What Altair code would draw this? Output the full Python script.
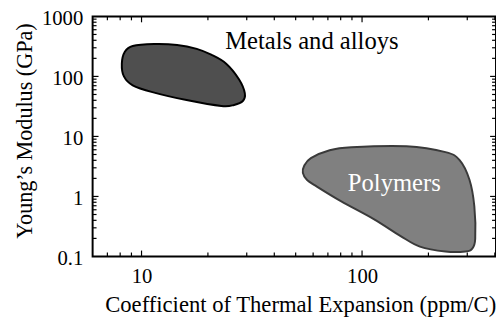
import altair as alt
import pandas as pd

# Metals and alloys region (outline points, ppm/C vs GPa)
metal_x = [8.14, 8.40, 9.12, 11.4, 14.5, 17.8, 20.7, 24.2, 27.7, 29.4, 28.8, 26.3, 23.0, 16.0, 11.2, 9.12, 8.32]
metal_y = [163, 257, 322, 347, 335, 288, 230, 163, 89, 52.6, 38.9, 33.5, 32.2, 40.4, 54.7, 71, 100]

# Polymers region (outline points)
poly_x = [54.6, 58.6, 71.3, 89.3, 159, 239, 277, 307, 323, 326, 316, 294, 239, 183, 149, 113, 80.5, 62.4, 56.2, 53.9]
poly_y = [3.22, 4.35, 5.89, 6.61, 6.85, 5.47, 4.04, 1.90, 0.686, 0.197, 0.135, 0.121, 0.121, 0.146, 0.221, 0.420, 0.828, 1.46, 1.90, 2.47]

# Region labels
label_text = ["Metals and alloys", "Polymers"]
label_x = [59.2, 140]
label_y = [281, 1.21]

# Axis ticks
x_labels = [10, 100]
y_labels = [0.1, 1, 10, 100, 1000]
x_minor = [7, 8, 9, 20, 30, 40, 50, 60, 70, 80, 90, 200, 300, 400]
x_major = [10, 100]
y_minor = [0.2, 0.3, 0.4, 0.5, 0.6, 0.7, 0.8, 0.9, 2, 3, 4, 5, 6, 7, 8, 9,
           20, 30, 40, 50, 60, 70, 80, 90, 200, 300, 400, 500, 600, 700, 800, 900]
y_major = [1, 10, 100]

W, H = 410, 244
FONT = "Liberation Serif"

xs = alt.Scale(type="log", domain=[6, 405], nice=False)
ys = alt.Scale(type="log", domain=[0.1, 1000], nice=False)

metals = pd.DataFrame({"x": metal_x, "y": metal_y, "i": range(len(metal_x))})
polys = pd.DataFrame({"x": poly_x, "y": poly_y, "i": range(len(poly_x))})
labels = pd.DataFrame({"t": label_text, "x": label_x, "y": label_y})

xaxis = alt.Axis(values=x_labels, format="~g", ticks=False, domain=False, grid=False,
                 labelFont=FONT, labelFontSize=21, labelColor="black", labelPadding=9,
                 title="Coefficient of Thermal Expansion (ppm/C)", titleFont=FONT,
                 titleFontSize=23, titleFontWeight="normal", titleColor="black",
                 titleX=211, titleY=56, titleBaseline="alphabetic")
yaxis = alt.Axis(values=y_labels, format="~g", ticks=False, domain=False, grid=False,
                 labelFont=FONT, labelFontSize=21, labelColor="black", labelPadding=10,
                 labelOffset=2.5,
                 title="Young\u2019s Modulus (GPa)", titleFont=FONT,
                 titleFontSize=22.5, titleFontWeight="normal", titleColor="black",
                 titleX=-62, titleY=116, titleBaseline="alphabetic")

metal_layer = alt.Chart(metals).mark_line(
    interpolate="cardinal-closed", filled=True, fill="#4f4f4f", stroke="black", strokeWidth=2
).encode(
    x=alt.X("x:Q", scale=xs, axis=xaxis),
    y=alt.Y("y:Q", scale=ys, axis=yaxis),
    order="i:O",
)

poly_layer = alt.Chart(polys).mark_line(
    interpolate="cardinal-closed", filled=True, fill="#808080", stroke="#3a3a3a", strokeWidth=2
).encode(
    x=alt.X("x:Q", scale=xs),
    y=alt.Y("y:Q", scale=ys),
    order="i:O",
)

text_layer = alt.Chart(labels).mark_text(
    font=FONT, fontSize=25, baseline="alphabetic", align="center"
).encode(
    x=alt.X("x:Q", scale=xs),
    y=alt.Y("y:Q", scale=ys),
    text="t:N",
    color=alt.Color("t:N", scale=alt.Scale(domain=label_text, range=["black", "white"]), legend=None),
)


def xticks(vals, y0, y1):
    df = pd.DataFrame({"v": vals})
    return alt.Chart(df).mark_rule(color="black", strokeWidth=1.2).encode(
        x=alt.X("v:Q", scale=xs), y=alt.value(y0), y2=alt.value(y1))


def yticks(vals, x0, x1):
    df = pd.DataFrame({"v": vals})
    return alt.Chart(df).mark_rule(color="black", strokeWidth=1.2).encode(
        y=alt.Y("v:Q", scale=ys), x=alt.value(x0), x2=alt.value(x1))


ticks = [
    xticks(x_minor, H, H - 4), xticks(x_major, H, H - 6),
    xticks(x_minor, 0, 4), xticks(x_major, 0, 6),
    yticks(y_minor, 0, 4), yticks(y_major, 0, 6),
    yticks(y_minor, W, W - 4), yticks(y_major, W, W - 6),
]

chart = alt.layer(poly_layer, metal_layer, text_layer, *ticks).properties(
    width=W, height=H,
    autosize=alt.AutoSizeParams(type="none"),
    padding={"left": 86, "top": 6, "right": 0, "bottom": 59},
    background="white",
).configure(font=FONT).configure_view(stroke="black", strokeWidth=2)

chart.save("out.html", embed_options={"renderer": "svg", "actions": False})
